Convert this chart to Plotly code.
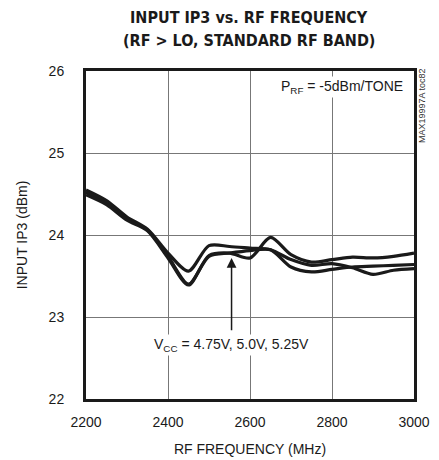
import plotly.graph_objects as go

freq = [2200, 2250, 2300, 2350, 2400, 2450, 2500, 2550, 2600, 2650, 2700, 2750, 2800, 2850, 2900, 2950, 3000]
iip3_a = [24.55, 24.42, 24.22, 24.07, 23.78, 23.56, 23.87, 23.86, 23.84, 23.82, 23.70, 23.63, 23.65, 23.60, 23.52, 23.57, 23.59]
iip3_b = [24.52, 24.40, 24.20, 24.06, 23.74, 23.40, 23.74, 23.78, 23.81, 23.82, 23.61, 23.55, 23.58, 23.61, 23.62, 23.63, 23.64]
iip3_c = [24.49, 24.37, 24.18, 24.05, 23.72, 23.39, 23.75, 23.78, 23.72, 23.97, 23.76, 23.67, 23.70, 23.73, 23.72, 23.74, 23.78]

x_ticks = [2200, 2400, 2600, 2800, 3000]
y_ticks = [22, 23, 24, 25, 26]

FONT = "Liberation Sans, Arial, sans-serif"
TITLE_FONT = "DejaVu Sans Condensed, Liberation Sans Narrow, Arial Narrow, sans-serif"
INK = "#1a1a1a"

fig = go.Figure()
for s in (iip3_a, iip3_b, iip3_c):
    fig.add_trace(go.Scatter(x=freq, y=s, mode="lines",
                             line=dict(color=INK, width=3.2, shape="spline", smoothing=0.8),
                             showlegend=False, hoverinfo="skip"))

fig.update_layout(
    width=439, height=460,
    margin=dict(l=86, r=25, t=71, b=61),
    paper_bgcolor="white", plot_bgcolor="white",
    font=dict(family=FONT, size=14, color=INK),
)
fig.update_xaxes(range=[2200, 3000], tickvals=x_ticks, ticks="", showgrid=True,
                 gridcolor="#777777", gridwidth=1, showline=True, linecolor=INK,
                 linewidth=3, mirror=True, zeroline=False, automargin=False,
                 ticklabelstandoff=8,
                 title=dict(text="RF FREQUENCY (MHz)", font=dict(family=FONT, size=14), standoff=16),
                 tickfont=dict(family=FONT, size=14))
fig.update_yaxes(range=[22, 26], tickvals=y_ticks, ticks="", showgrid=True,
                 gridcolor="#777777", gridwidth=1, showline=True, linecolor=INK,
                 linewidth=3, mirror=True, zeroline=False, automargin=False,
                 ticklabelstandoff=16,
                 title=dict(text="INPUT IP3 (dBm)", font=dict(family=FONT, size=14), standoff=18),
                 tickfont=dict(family=FONT, size=14))

fig.add_annotation(x=0.497, y=1.1646, xref="paper", yref="paper", xanchor="center", yanchor="middle",
                   text="<b>INPUT IP3 vs. RF FREQUENCY</b>", showarrow=False,
                   font=dict(family=TITLE_FONT, size=16, color=INK))
fig.add_annotation(x=0.497, y=1.0945, xref="paper", yref="paper", xanchor="center", yanchor="middle",
                   text="<b>(RF > LO, STANDARD RF BAND)</b>", showarrow=False,
                   font=dict(family=TITLE_FONT, size=16, color=INK))

fig.add_annotation(x=2978, y=25.81, xref="x", yref="y", xanchor="right", yanchor="middle",
                   text="P<sub>RF</sub> = -5dBm/TONE", showarrow=False,
                   font=dict(family=FONT, size=14, color=INK), bgcolor="white")
fig.add_annotation(x=2555, y=22.66, xref="x", yref="y", xanchor="center", yanchor="middle",
                   text="V<sub>CC</sub> = 4.75V, 5.0V, 5.25V", showarrow=False,
                   font=dict(family=FONT, size=14, color=INK), bgcolor="white")
fig.add_annotation(x=2555, y=23.72, ax=2555, ay=22.82, xref="x", yref="y", axref="x", ayref="y",
                   text="", showarrow=True, arrowhead=2, arrowsize=1.3, arrowwidth=1.5,
                   arrowcolor=INK)
fig.add_annotation(x=1.0 + 8 / 328, y=0.893, xref="paper", yref="paper", xanchor="center", yanchor="middle",
                   text="MAX19997A toc82", textangle=-90, showarrow=False,
                   font=dict(family=FONT, size=9, color="#333333"))

fig.write_html("out.html", config={"displayModeBar": False},
               post_script="document.body.style.margin='0';")
